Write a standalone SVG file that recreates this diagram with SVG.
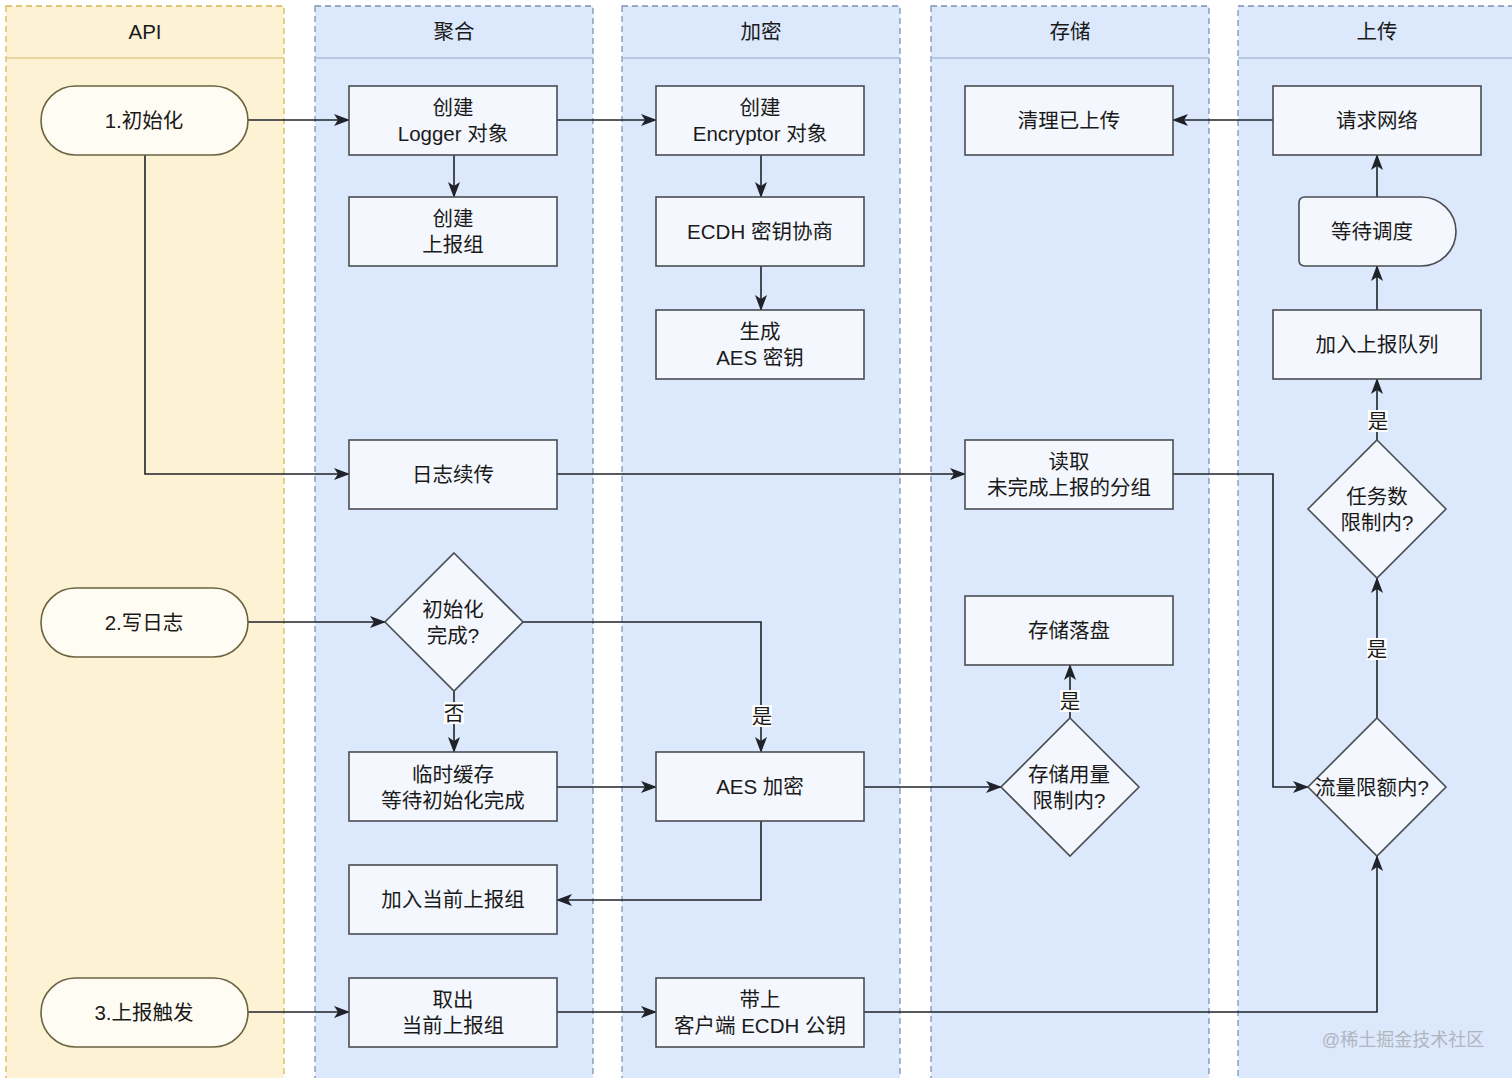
<svg xmlns="http://www.w3.org/2000/svg" width="1512" height="1078" viewBox="0 0 1512 1078">
<defs>
<style>
text{font-family:"Liberation Sans","Noto Sans CJK SC",sans-serif;font-size:20.5px;fill:#1a1a1a;text-anchor:middle;dominant-baseline:central}
.laneY{fill:#fdf3d4;stroke:#d6b656;stroke-width:1.3;stroke-dasharray:6 4}
.laneB{fill:#dce8fb;stroke:#7f93b5;stroke-width:1.3;stroke-dasharray:6 4}
.hdrY{stroke:#e0cf8f;stroke-width:1.5}
.hdrB{stroke:#a9bcd8;stroke-width:1.5}
.box{fill:#f4f7fd;stroke:#4a4d52;stroke-width:1.6}
.term{fill:#fffdf3;stroke:#6b6340;stroke-width:1.6}
.edge{fill:none;stroke:#1f2329;stroke-width:1.6;marker-end:url(#arr)}
.lbl{fill:#ffffff}
.wm{font-size:18px;fill:#b0b6c0;text-anchor:middle}
</style>
<marker id="arr" viewBox="0 0 16 14" refX="15" refY="7" markerWidth="16" markerHeight="14" markerUnits="userSpaceOnUse" orient="auto">
<path d="M0,1 L16,7 L0,13 L4,7 Z" fill="#1f2329"/>
</marker>
</defs>
<rect width="1512" height="1078" fill="#ffffff"/>
<g id="lanes">
<rect class="laneY" x="6" y="6" width="278" height="1080"/>
<line class="hdrY" x1="6" y1="58" x2="284" y2="58"/>
<text x="145" y="31">API</text>
<rect class="laneB" x="315" y="6" width="278" height="1080"/>
<line class="hdrB" x1="315" y1="58" x2="593" y2="58"/>
<text x="454" y="31">聚合</text>
<rect class="laneB" x="622" y="6" width="278" height="1080"/>
<line class="hdrB" x1="622" y1="58" x2="900" y2="58"/>
<text x="761" y="31">加密</text>
<rect class="laneB" x="931" y="6" width="278" height="1080"/>
<line class="hdrB" x1="931" y1="58" x2="1209" y2="58"/>
<text x="1070" y="31">存储</text>
<rect class="laneB" x="1238" y="6" width="290" height="1080"/>
<line class="hdrB" x1="1238" y1="58" x2="1512" y2="58"/>
<text x="1377" y="31">上传</text>
</g>
<g id="connectors">
<path class="edge" d="M248,120 H349"/>
<path class="edge" d="M557,120 H656"/>
<path class="edge" d="M454,155 V197"/>
<path class="edge" d="M761,155 V197"/>
<path class="edge" d="M761,266 V310"/>
<path class="edge" d="M145,155 V474 H349"/>
<path class="edge" d="M557,474 H965"/>
<path class="edge" d="M1173,474 H1273 V787 H1308"/>
<path class="edge" d="M1273,120 H1173"/>
<path class="edge" d="M1377,197 V155"/>
<path class="edge" d="M1377,310 V266"/>
<path class="edge" d="M1377,440 V379"/>
<path class="edge" d="M1377,718 V578"/>
<path class="edge" d="M248,622 H385"/>
<path class="edge" d="M523,622 H761 V752"/>
<path class="edge" d="M454,691 V752"/>
<path class="edge" d="M557,787 H656"/>
<path class="edge" d="M864,787 H1001"/>
<path class="edge" d="M1070,718 V665"/>
<path class="edge" d="M761,821 V900 H557"/>
<path class="edge" d="M248,1012 H349"/>
<path class="edge" d="M557,1012 H656"/>
<path class="edge" d="M864,1012 H1377 V856"/>
<rect class="lbl" x="1368" y="410" width="20" height="22"/>
<text x="1378" y="421">是</text>
<rect class="lbl" x="1367" y="638" width="20" height="22"/>
<text x="1377" y="649">是</text>
<rect class="lbl" x="752" y="705" width="20" height="22"/>
<text x="762" y="716">是</text>
<rect class="lbl" x="444" y="702" width="20" height="22"/>
<text x="454" y="713">否</text>
<rect class="lbl" x="1060" y="690" width="20" height="22"/>
<text x="1070" y="701">是</text>
</g>
<g id="n-init"><rect class="term" x="41" y="86" width="207" height="69" rx="34.5"/><text x="144" y="120">1.初始化</text></g>
<g id="n-write"><rect class="term" x="41" y="588" width="207" height="69" rx="34.5"/><text x="144" y="622">2.写日志</text></g>
<g id="n-trigger"><rect class="term" x="41" y="978" width="207" height="69" rx="34.5"/><text x="144" y="1012">3.上报触发</text></g>
<g id="n-logger"><rect class="box" x="349" y="86" width="208" height="69"/><text x="453" y="107">创建</text><text x="453" y="133">Logger 对象</text></g>
<g id="n-group"><rect class="box" x="349" y="197" width="208" height="69"/><text x="453" y="218">创建</text><text x="453" y="244">上报组</text></g>
<g id="n-resume"><rect class="box" x="349" y="440" width="208" height="69"/><text x="453" y="474">日志续传</text></g>
<g id="n-initdone"><path class="box" d="M454,553 L523,622 L454,691 L385,622 Z"/><text x="453" y="609">初始化</text><text x="453" y="635">完成?</text></g>
<g id="n-cache"><rect class="box" x="349" y="752" width="208" height="69"/><text x="453" y="774">临时缓存</text><text x="453" y="800">等待初始化完成</text></g>
<g id="n-addgroup"><rect class="box" x="349" y="865" width="208" height="69"/><text x="453" y="899">加入当前上报组</text></g>
<g id="n-takeout"><rect class="box" x="349" y="978" width="208" height="69"/><text x="453" y="999">取出</text><text x="453" y="1025">当前上报组</text></g>
<g id="n-encryptor"><rect class="box" x="656" y="86" width="208" height="69"/><text x="760" y="107">创建</text><text x="760" y="133">Encryptor 对象</text></g>
<g id="n-ecdh"><rect class="box" x="656" y="197" width="208" height="69"/><text x="760" y="231">ECDH 密钥协商</text></g>
<g id="n-aeskey"><rect class="box" x="656" y="310" width="208" height="69"/><text x="760" y="331">生成</text><text x="760" y="357">AES 密钥</text></g>
<g id="n-aesenc"><rect class="box" x="656" y="752" width="208" height="69"/><text x="760" y="786">AES 加密</text></g>
<g id="n-pubkey"><rect class="box" x="656" y="978" width="208" height="69"/><text x="760" y="999">带上</text><text x="760" y="1025">客户端 ECDH 公钥</text></g>
<g id="n-clean"><rect class="box" x="965" y="86" width="208" height="69"/><text x="1069" y="120">清理已上传</text></g>
<g id="n-read"><rect class="box" x="965" y="440" width="208" height="69"/><text x="1069" y="461">读取</text><text x="1069" y="487">未完成上报的分组</text></g>
<g id="n-disk"><rect class="box" x="965" y="596" width="208" height="69"/><text x="1069" y="630">存储落盘</text></g>
<g id="n-storelimit"><path class="box" d="M1070,718 L1139,787 L1070,856 L1001,787 Z"/><text x="1069" y="774">存储用量</text><text x="1069" y="800">限制内?</text></g>
<g id="n-request"><rect class="box" x="1273" y="86" width="208" height="69"/><text x="1377" y="120">请求网络</text></g>
<g id="n-wait"><path class="box" d="M1305,197 H1421 A35,34.5 0 0 1 1421,266 H1305 Q1299,266 1299,260 V203 Q1299,197 1305,197 Z"/><text x="1372" y="231">等待调度</text></g>
<g id="n-queue"><rect class="box" x="1273" y="310" width="208" height="69"/><text x="1377" y="344">加入上报队列</text></g>
<g id="n-tasklimit"><path class="box" d="M1377,440 L1446,509 L1377,578 L1308,509 Z"/><text x="1377" y="496">任务数</text><text x="1377" y="522">限制内?</text></g>
<g id="n-flowlimit"><path class="box" d="M1377,718 L1446,787 L1377,856 L1308,787 Z"/><text x="1372" y="787">流量限额内?</text></g>
<text class="wm" x="1403" y="1040">@稀土掘金技术社区</text>
</svg>
